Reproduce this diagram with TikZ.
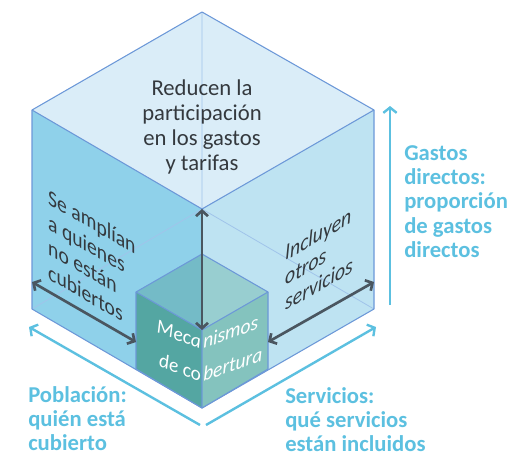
\documentclass[tikz,border=0pt]{standalone}
\usepackage{fontspec}
\setmainfont{Carlito}
\usepackage{xcolor}
\usetikzlibrary{arrows.meta}

\definecolor{topface}{RGB}{218,237,248}
\definecolor{leftface}{RGB}{143,209,234}
\definecolor{rightface}{RGB}{190,227,242}
\definecolor{edgeblue}{RGB}{108,152,216}
\definecolor{hiddenblue}{RGB}{160,196,234}
\definecolor{stopL}{RGB}{116,187,199}
\definecolor{stopR}{RGB}{152,206,208}
\definecolor{sfrontL}{RGB}{84,166,162}
\definecolor{sfrontR}{RGB}{132,195,190}
\definecolor{darkarrow}{RGB}{74,86,96}
\definecolor{skyblue}{RGB}{92,192,224}
\definecolor{darktext}{RGB}{52,57,62}

\newcommand\dgmfont{\fontsize{17}{18.75}\selectfont}
\newcommand\labelfont{\fontsize{17}{18.3}\selectfont\bfseries}
\newcommand\mecafont{\fontsize{15.5}{18}\selectfont\itshape}

\begin{document}
\begin{tikzpicture}[x=0.75pt,y=0.75pt,yscale=-1,xscale=1,
	edge/.style={draw=edgeblue, line width=0.8pt, line join=round},
	hidden/.style={draw=hiddenblue, line width=0.6pt},
	dimarrow/.style={draw=darkarrow, line width=2pt, {Straight Barb[length=4pt,width=9pt]}-{Straight Barb[length=4pt,width=9pt]}},
	axisarrow/.style={draw=skyblue, line width=1.8pt, -{Straight Barb[length=4pt,width=10pt]}},
	bodytext/.style={font=\dgmfont, text=darktext, inner sep=0pt},
	mecatext/.style={font=\mecafont, text=white, inner sep=0pt},
	labeltext/.style={font=\labelfont, text=skyblue, inner sep=0pt, align=left, anchor=north west},
	onleft/.style={yslant=-#1, xscale=1/sqrt(1+#1*#1)},
	onright/.style={yslant=#1, xscale=1/sqrt(1+#1*#1)}]
	\useasboundingbox (0,0) rectangle (510,457);
	
	%Coordinates: outer cube
	\coordinate (bT) at (202,12);
	\coordinate (bL) at (32,110);
	\coordinate (bR) at (374,110);
	\coordinate (bC) at (202,209);
	\coordinate (bLB) at (32,309);
	\coordinate (bRB) at (374,309);
	\coordinate (bF) at (202,408);
	%Coordinates: inner cube
	\coordinate (sT) at (202,254);
	\coordinate (sL) at (136,292);
	\coordinate (sR) at (268,292);
	\coordinate (sC) at (202,330);
	\coordinate (sLB) at (136,369);
	\coordinate (sRB) at (268,369);
	
	%Shape: outer cube faces
	\fill [topface] (bT) -- (bR) -- (bC) -- (bL) -- cycle;
	\fill [leftface] (bL) -- (bC) -- (bF) -- (bLB) -- cycle;
	\fill [rightface] (bC) -- (bR) -- (bRB) -- (bF) -- cycle;
	%Straight Lines: back edges
	\draw [hidden] (bT) -- (bC) (bC) -- (bLB) (bC) -- (bRB);
	%Straight Lines: front edges
	\draw [edge] (bT) -- (bR) -- (bRB) -- (bF) -- (bLB) -- (bL) -- cycle;
	\draw [edge] (bL) -- (bC) -- (bR) (bC) -- (bF);
	
	%Shape: inner cube
	\fill [stopL] (sT) -- (sC) -- (sL) -- cycle;
	\fill [stopR] (sT) -- (sR) -- (sC) -- cycle;
	\fill [sfrontL] (sL) -- (sC) -- (bF) -- (sLB) -- cycle;
	\fill [sfrontR] (sC) -- (sR) -- (sRB) -- (bF) -- cycle;
	\draw [edge] (sT) -- (sR) -- (sRB) -- (bF) -- (sLB) -- (sL) -- cycle;
	\draw [edge] (sL) -- (sC) -- (sR) (sC) -- (bF);
	
	%Straight Lines: dark double arrows
	\coordinate (popA) at (32,282);
	\coordinate (popB) at (136,342);
	\coordinate (srvA) at (374,282);
	\coordinate (srvB) at (268,342);
	\draw [dimarrow] (bC) -- (sC);
	\draw [dimarrow] (popA) -- (popB);
	\draw [dimarrow] (srvA) -- (srvB);
	
	%Straight Lines: axes
	\coordinate (popEnd) at (200,425);
	\coordinate (popTip) at (29,327);
	\coordinate (srvEnd) at (206,425);
	\coordinate (srvTip) at (376,327);
	\coordinate (gasEnd) at (390,305);
	\coordinate (gasTip) at (390,106);
	\draw [axisarrow] (popEnd) -- (popTip);
	\draw [axisarrow] (srvEnd) -- (srvTip);
	\draw [axisarrow] (gasEnd) -- (gasTip);
	
	% Text Node
	\node [bodytext, align=center] (reduce) at (202,127) {Reducen la\\participación\\en los gastos\\y tarifas};
	% Text Node
	\node [bodytext, align=left, anchor=north west, onleft=0.577] (amplia) at (48,188) {Se amplían\\a quienes\\no están\\cubiertos};
	% Text Node
	\node [bodytext, font=\dgmfont\itshape, align=left, anchor=north west, onright=0.577] (incluye) at (285,245) {Incluyen\\otros\\servicios};
	% Text Node
	\node [mecatext, anchor=base east, onleft=0.364] (mecaL) at (201,349) {Meca};
	\node [mecatext, anchor=base west, onright=0.364] (mecaR) at (203,349) {nismos};
	\node [mecatext, anchor=base east, onleft=0.364] (cobL) at (201,382) {de co};
	\node [mecatext, anchor=base west, onright=0.364] (cobR) at (203,382) {bertura};
	% Text Node
	\node [labeltext] (gastos) at (404,145) {Gastos\\directos:\\proporción\\de gastos\\directos};
	% Text Node
	\node [labeltext] (poblacion) at (28,386) {Población:\\quién está\\cubierto};
	% Text Node
	\node [labeltext] (servicios) at (285,387) {Servicios:\\qué servicios\\están incluidos};
	
\end{tikzpicture}
\end{document}
